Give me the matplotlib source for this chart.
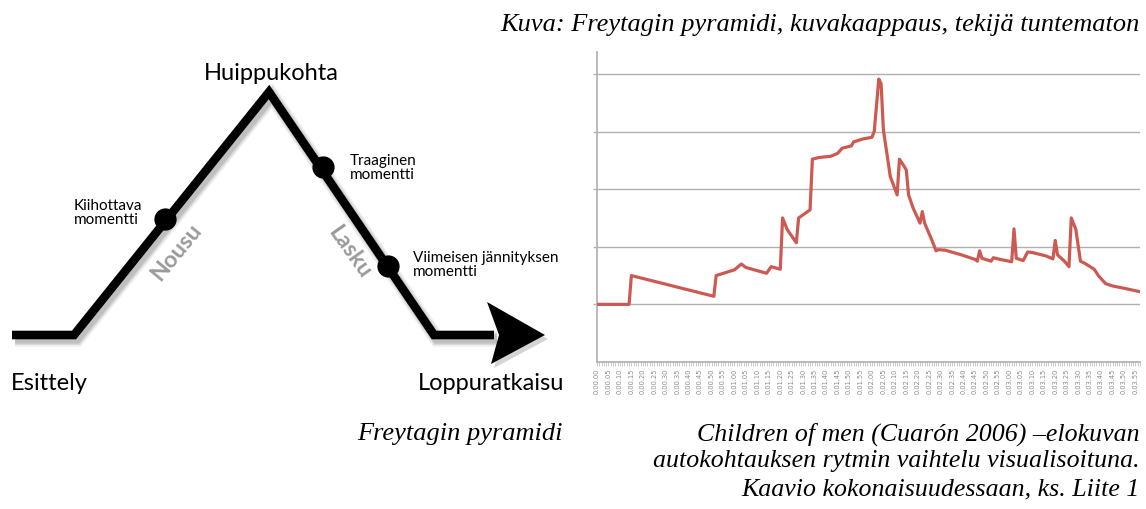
import matplotlib
matplotlib.use("Agg")
import matplotlib.pyplot as plt
from matplotlib.patches import Polygon

# ---------------- data: rhythm chart (seconds -> intensity) ----------------
rhythm_seconds = [0, 14, 15, 51, 52, 56, 60, 63, 65, 74, 76, 80, 81, 83, 87, 88,
                  93, 94, 97, 102, 105, 107, 111, 112, 116, 120, 121, 123, 124,
                  125, 128, 131, 132, 134, 135, 136, 138, 141, 142, 143, 146,
                  148, 149, 152, 159, 165, 166, 167, 168, 172, 173, 176, 181,
                  182, 183, 186, 188, 190, 196, 199, 200, 201, 204, 206, 207,
                  209, 211, 213, 217, 219, 222, 225, 230, 237]
rhythm_values = [1.00, 1.00, 1.50, 1.14, 1.50, 1.55, 1.60, 1.70, 1.64, 1.54,
                 1.655, 1.61, 2.50, 2.30, 2.07, 2.50, 2.64, 3.52, 3.55, 3.57,
                 3.62, 3.71, 3.75, 3.82, 3.87, 3.90, 4.00, 4.91, 4.83, 4.03,
                 3.22, 2.90, 3.52, 3.40, 3.33, 2.90, 2.67, 2.41, 2.61, 2.41,
                 2.13, 1.93, 1.95, 1.94, 1.86, 1.78, 1.75, 1.93, 1.80, 1.75,
                 1.81, 1.78, 1.74, 2.31, 1.80, 1.76, 1.91, 1.90, 1.84, 1.79,
                 2.11, 1.86, 1.75, 1.655, 2.50, 2.30, 1.75, 1.71, 1.61, 1.49,
                 1.36, 1.32, 1.28, 1.22]
tick_seconds = list(range(0, 236, 5))
tick_labels = [f"0.{s // 60:02d}.{s % 60:02d}" for s in tick_seconds]
grid_levels = [1, 2, 3, 4, 5]

# ---------------- Freytag pyramid diagram (pixel space) ----------------
pyramid_x = [12, 74, 269, 434, 494]
pyramid_y = [335, 335, 92, 335, 335]
arrow_head = [(487, 302), (545, 335), (491, 364), (499, 335)]
moment_x = [165, 323, 388]
moment_y = [219, 167, 266]

caption_lines = ["Children of men (Cuarón 2006) –elokuvan",
                 "autokohtauksen rytmin vaihtelu visualisoituna.",
                 "Kaavio kokonaisuudessaan, ks. Liite 1"]

W, H = 1146, 509
fig = plt.figure(figsize=(W / 100, H / 100), dpi=100)
fig.patch.set_facecolor("white")

ov = fig.add_axes([0, 0, 1, 1])
ov.set_xlim(0, W)
ov.set_ylim(H, 0)
ov.axis("off")

# soft shadow
for lw, a in [(11, 0.10), (8.5, 0.14), (6.5, 0.18)]:
    ov.plot([x + 3 for x in pyramid_x], [y + 4 for y in pyramid_y], color="#555555",
            lw=lw, alpha=a, solid_joinstyle="miter", solid_capstyle="butt", zorder=1)
ov.add_patch(Polygon([(x + 3, y + 4) for x, y in arrow_head], closed=True,
                     facecolor="#555555", alpha=0.25, edgecolor="none", zorder=1))
ov.plot(pyramid_x, pyramid_y, color="black", lw=6.2, solid_joinstyle="miter",
        solid_capstyle="butt", zorder=3)
ov.add_patch(Polygon(arrow_head, closed=True, facecolor="black", edgecolor="none", zorder=3))
ov.plot(moment_x, moment_y, "o", color="black", ms=15, zorder=4)

sans = "Lato"
ov.text(271, 73, "Huippukohta", fontsize=17, family=sans, ha="center", va="center")
ov.text(11, 383, "Esittely", fontsize=17, family=sans, ha="left", va="center")
ov.text(418, 383, "Loppuratkaisu", fontsize=17, family=sans, ha="left", va="center")
ov.text(74, 213, "Kiihottava\nmomentti", fontsize=11, family=sans, ha="left",
        va="center", linespacing=0.95)
ov.text(350, 168, "Traaginen\nmomentti", fontsize=11, family=sans, ha="left",
        va="center", linespacing=0.95)
ov.text(413, 265, "Viimeisen jännityksen\nmomentti", fontsize=11, family=sans,
        ha="left", va="center", linespacing=0.95)
ov.text(176, 252, "Nousu", fontsize=16.5, family=sans, weight="bold", color="#9a9a9a",
        rotation=50.6, ha="center", va="center", rotation_mode="anchor")
ov.text(349, 252, "Lasku", fontsize=16.5, family=sans, weight="bold", color="#9a9a9a",
        rotation=-54.7, ha="center", va="center", rotation_mode="anchor")

serif = "Liberation Serif"
ov.text(1140, 25, "Kuva: Freytagin pyramidi, kuvakaappaus, tekijä tuntematon",
        fontsize=19, family=serif, style="italic", ha="right", va="center")
ov.text(460, 434, "Freytagin pyramidi", fontsize=19, family=serif, style="italic",
        ha="center", va="center")
for yy, line in zip([434, 461.5, 489], caption_lines):
    ov.text(1140, yy, line, fontsize=18.6, family=serif, style="italic",
            ha="right", va="center")

# ---------------- rhythm chart ----------------
left, right, top, bottom = 597, 1140, 52, 362
ax = fig.add_axes([left / W, 1 - bottom / H, (right - left) / W, (bottom - top) / H])
ax.set_facecolor("none")
ax.set_xlim(0, 237)
ax.set_ylim(0, 5.38)
for s in ["top", "right"]:
    ax.spines[s].set_visible(False)
for s in ["left", "bottom"]:
    ax.spines[s].set_color("#b4b4b4")
    ax.spines[s].set_linewidth(1.3)
ax.set_yticks(grid_levels)
ax.set_yticklabels([])
ax.tick_params(axis="y", length=3, color="#b4b4b4", width=1)
for g in grid_levels:
    ax.axhline(g, color="#b0b0b0", lw=1.0, zorder=1)
ax.set_xticks(tick_seconds)
ax.set_xticklabels(tick_labels, rotation=90, fontsize=4.8, color="#8a8a8a",
                   family="DejaVu Sans")
ax.set_xticks(range(0, 238), minor=True)
ax.tick_params(axis="x", which="both", length=3, color="#c4c4c4", width=0.6, pad=2)
ax.plot(rhythm_seconds, rhythm_values, color="#cd5a52", lw=2.3, zorder=3,
        solid_joinstyle="round")

fig.savefig("out.png", dpi=100, facecolor="white")
